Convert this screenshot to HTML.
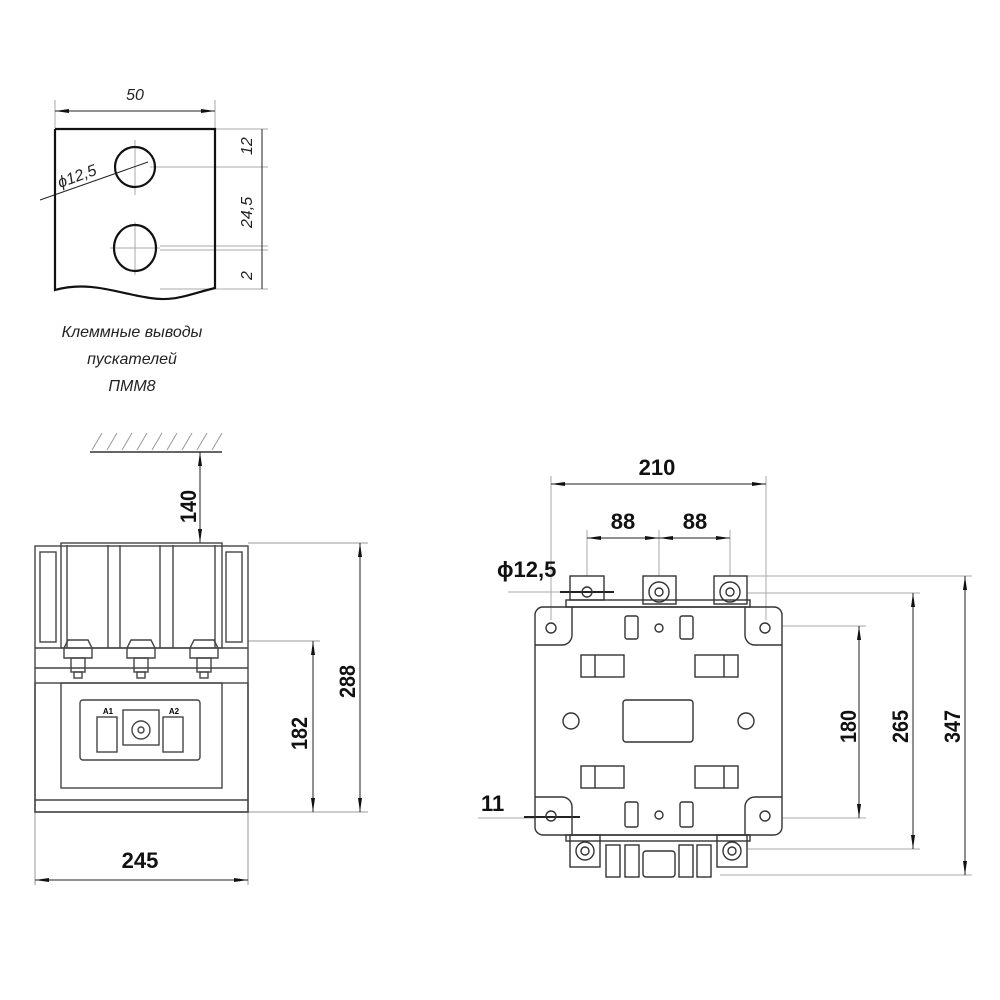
<!DOCTYPE html>
<html><head><meta charset="utf-8"><style>
html,body{margin:0;padding:0;background:#fff}
svg{display:block}
.t{font-family:"Liberation Sans",sans-serif;font-weight:bold;font-size:22px;fill:#111}
.i{font-family:"Liberation Sans",sans-serif;font-style:italic;font-size:16px;fill:#222}
</style></head><body>
<svg width="1000" height="1000" viewBox="0 0 1000 1000" xmlns="http://www.w3.org/2000/svg">
<defs>
<marker id="a" viewBox="0 0 14 7" refX="14" refY="3.5" markerWidth="14" markerHeight="7" orient="auto-start-reverse" markerUnits="userSpaceOnUse"><path d="M0,1.5 L14,3.5 L0,5.5z" fill="#111"/></marker>
</defs>
<g fill="none" stroke="#aaa" stroke-width="1">
<line x1="55" y1="100" x2="55" y2="128"/><line x1="215" y1="100" x2="215" y2="128"/>
<line x1="215" y1="129" x2="268" y2="129"/><line x1="150" y1="167" x2="268" y2="167"/>
<line x1="160" y1="246" x2="268" y2="246"/><line x1="160" y1="250" x2="268" y2="250"/>
<line x1="160" y1="289" x2="268" y2="289"/>
<line x1="135" y1="140" x2="135" y2="195"/><line x1="110" y1="248" x2="160" y2="248"/><line x1="135" y1="222" x2="135" y2="275"/>
</g>
<g stroke="#222" stroke-width="1" fill="none">
<line x1="55" y1="111" x2="215" y2="111" marker-start="url(#a)" marker-end="url(#a)"/>
<line x1="262" y1="129" x2="262" y2="289"/>
<line x1="40" y1="200" x2="148" y2="162"/>
</g>
<g stroke="#111" stroke-width="2.2" fill="none">
<path d="M55,129 H215 V288 C190,294 175,302 150,298 C120,294 90,280 55,290 V129"/>
<circle cx="135" cy="167" r="20"/>
<ellipse cx="135" cy="248" rx="21" ry="23"/>
</g>
<text x="135" y="100" class="i" text-anchor="middle" font-size="18">50</text>
<text class="i" transform="translate(60,188) rotate(-20)" font-size="17">ϕ12,5</text>
<text class="i" transform="translate(252,155) rotate(-90)" font-size="17">12</text>
<text class="i" transform="translate(252,228) rotate(-90)" font-size="17">24,5</text>
<text class="i" transform="translate(252,280) rotate(-90)" font-size="17">2</text>
<text class="i" x="132" y="337" text-anchor="middle" font-size="19">Клеммные выводы</text>
<text class="i" x="132" y="364" text-anchor="middle" font-size="19">пускателей</text>
<text class="i" x="132" y="391" text-anchor="middle" font-size="19">ПММ8</text>

<g stroke="#999" stroke-width="1">
<line x1="90" y1="452" x2="222" y2="452" stroke="#333" stroke-width="1.5"/>
<path d="M92,450 L102,433 M107,450 L117,433 M122,450 L132,433 M137,450 L147,433 M152,450 L162,433 M167,450 L177,433 M182,450 L192,433 M197,450 L207,433 M212,450 L222,433"/>
<line x1="248" y1="543" x2="368" y2="543"/><line x1="248" y1="641" x2="320" y2="641"/>
<line x1="248" y1="812" x2="368" y2="812"/>
<line x1="35" y1="812" x2="35" y2="885"/><line x1="248" y1="812" x2="248" y2="885"/>
</g>
<g stroke="#222" stroke-width="1" fill="none">
<line x1="200" y1="452" x2="200" y2="543" marker-start="url(#a)" marker-end="url(#a)"/>
<line x1="360" y1="543" x2="360" y2="812" marker-start="url(#a)" marker-end="url(#a)"/>
<line x1="313" y1="641" x2="313" y2="812" marker-start="url(#a)" marker-end="url(#a)"/>
<line x1="35" y1="880" x2="248" y2="880" marker-start="url(#a)" marker-end="url(#a)"/>
</g>
<text class="t" transform="translate(196,523) rotate(-90) scale(0.9,1)">140</text>
<text class="t" transform="translate(355,698) rotate(-90) scale(0.9,1)">288</text>
<text class="t" transform="translate(307,750) rotate(-90) scale(0.9,1)">182</text>
<text class="t" x="140" y="868" text-anchor="middle">245</text>

<g stroke="#444" stroke-width="1.4" fill="none">
<rect x="35" y="546" width="213" height="266"/>
<rect x="35" y="683" width="213" height="129"/>
<line x1="35" y1="800" x2="248" y2="800"/>
<rect x="61" y="543" width="161" height="105"/>
<line x1="67" y1="545" x2="67" y2="648"/><line x1="108" y1="545" x2="108" y2="648"/>
<line x1="120" y1="545" x2="120" y2="648"/><line x1="160" y1="545" x2="160" y2="648"/>
<line x1="173" y1="545" x2="173" y2="648"/><line x1="215" y1="545" x2="215" y2="648"/>
<rect x="40" y="552" width="16" height="90"/><rect x="226" y="552" width="16" height="90"/>
<line x1="35" y1="648" x2="248" y2="648"/><line x1="35" y1="668" x2="248" y2="668"/>
<rect x="61" y="683" width="161" height="105"/>
<rect x="80" y="700" width="120" height="60" rx="3"/>
<rect x="123" y="710" width="36" height="35"/>
<circle cx="141" cy="730" r="9"/><circle cx="141" cy="730" r="3"/>
<rect x="97" y="717" width="20" height="35"/><rect x="163" y="717" width="20" height="35"/>
<g id="b"><path d="M68,640 h20 l4,8 v10 h-28 v-10z"/><rect x="71" y="658" width="14" height="14"/><rect x="74" y="672" width="8" height="6"/></g>
<use href="#b" x="63"/><use href="#b" x="126"/>
</g>
<text x="108" y="714" font-family="Liberation Sans" font-weight="bold" font-size="8" text-anchor="middle">A1</text>
<text x="174" y="714" font-family="Liberation Sans" font-weight="bold" font-size="8" text-anchor="middle">A2</text>

<g stroke="#aaa" stroke-width="1" fill="none">
<line x1="551" y1="476" x2="551" y2="620"/><line x1="766" y1="476" x2="766" y2="620"/>
<line x1="587" y1="530" x2="587" y2="576"/><line x1="659" y1="530" x2="659" y2="576"/><line x1="730" y1="530" x2="730" y2="576"/>
<line x1="747" y1="576" x2="972" y2="576"/><line x1="747" y1="593" x2="920" y2="593"/>
<line x1="782" y1="626" x2="866" y2="626"/><line x1="782" y1="818" x2="866" y2="818"/>
<line x1="748" y1="849" x2="920" y2="849"/><line x1="720" y1="875" x2="972" y2="875"/>
<line x1="508" y1="592" x2="570" y2="592"/><line x1="478" y1="818" x2="535" y2="818"/>
</g>
<g stroke="#222" stroke-width="1" fill="none">
<line x1="551" y1="484" x2="766" y2="484" marker-start="url(#a)" marker-end="url(#a)"/>
<line x1="587" y1="538" x2="659" y2="538" marker-start="url(#a)" marker-end="url(#a)"/>
<line x1="659" y1="538" x2="730" y2="538" marker-start="url(#a)" marker-end="url(#a)"/>
<line x1="859" y1="626" x2="859" y2="818" marker-start="url(#a)" marker-end="url(#a)"/>
<line x1="913" y1="593" x2="913" y2="849" marker-start="url(#a)" marker-end="url(#a)"/>
<line x1="965" y1="576" x2="965" y2="875" marker-start="url(#a)" marker-end="url(#a)"/>
<line x1="560" y1="592" x2="614" y2="592" stroke-width="2"/>
<line x1="524" y1="817" x2="580" y2="817" stroke-width="2"/>
</g>
<text class="t" x="657" y="475" text-anchor="middle">210</text>
<text class="t" x="623" y="529" text-anchor="middle">88</text>
<text class="t" x="695" y="529" text-anchor="middle">88</text>
<text class="t" x="497" y="577">ϕ12,5</text>
<text class="t" x="481" y="811">11</text>
<text class="t" transform="translate(856,743) rotate(-90) scale(0.9,1)">180</text>
<text class="t" transform="translate(908,743) rotate(-90) scale(0.9,1)">265</text>
<text class="t" transform="translate(960,743) rotate(-90) scale(0.9,1)">347</text>

<g stroke="#333" stroke-width="1.4" fill="none">
<rect x="535" y="607" width="247" height="228" rx="8"/>
<path d="M535,645 H562 A10,10 0 0 0 572,635 V607"/>
<path d="M782,645 H755 A10,10 0 0 1 745,635 V607"/>
<path d="M535,797 H562 A10,10 0 0 1 572,807 V835"/>
<path d="M782,797 H755 A10,10 0 0 0 745,807 V835"/>
<circle cx="551" cy="628" r="5"/><circle cx="765" cy="628" r="5"/>
<circle cx="551" cy="816" r="5"/><circle cx="765" cy="816" r="5"/>
<rect x="566" y="600" width="184" height="7"/>
<rect x="570" y="576" width="34" height="24"/><circle cx="587" cy="592" r="5"/>
<rect x="643" y="576" width="33" height="28"/><circle cx="659" cy="592" r="10"/><circle cx="659" cy="592" r="4"/>
<rect x="714" y="576" width="33" height="28"/><circle cx="730" cy="592" r="10"/><circle cx="730" cy="592" r="4"/>
<rect x="625" y="616" width="13" height="23" rx="2"/><rect x="680" y="616" width="13" height="23" rx="2"/>
<circle cx="659" cy="628" r="4"/>
<rect x="581" y="655" width="43" height="22"/><line x1="595" y1="655" x2="595" y2="677"/>
<rect x="695" y="655" width="43" height="22"/><line x1="724" y1="655" x2="724" y2="677"/>
<rect x="623" y="700" width="70" height="42" rx="3"/>
<circle cx="571" cy="721" r="8"/><circle cx="746" cy="721" r="8"/>
<rect x="581" y="766" width="43" height="22"/><line x1="595" y1="766" x2="595" y2="788"/>
<rect x="695" y="766" width="43" height="22"/><line x1="724" y1="766" x2="724" y2="788"/>
<rect x="625" y="802" width="13" height="25" rx="2"/><rect x="680" y="802" width="13" height="25" rx="2"/>
<circle cx="659" cy="815" r="4"/>
<rect x="566" y="835" width="184" height="6"/>
<rect x="570" y="835" width="30" height="32"/><circle cx="585" cy="851" r="9"/><circle cx="585" cy="851" r="4"/>
<rect x="717" y="835" width="30" height="32"/><circle cx="732" cy="851" r="9"/><circle cx="732" cy="851" r="4"/>
<rect x="606" y="845" width="14" height="32"/><rect x="625" y="845" width="14" height="32"/>
<rect x="643" y="851" width="32" height="26" rx="3"/>
<rect x="679" y="845" width="14" height="32"/><rect x="697" y="845" width="14" height="32"/>
</g>
</svg>
</body></html>
